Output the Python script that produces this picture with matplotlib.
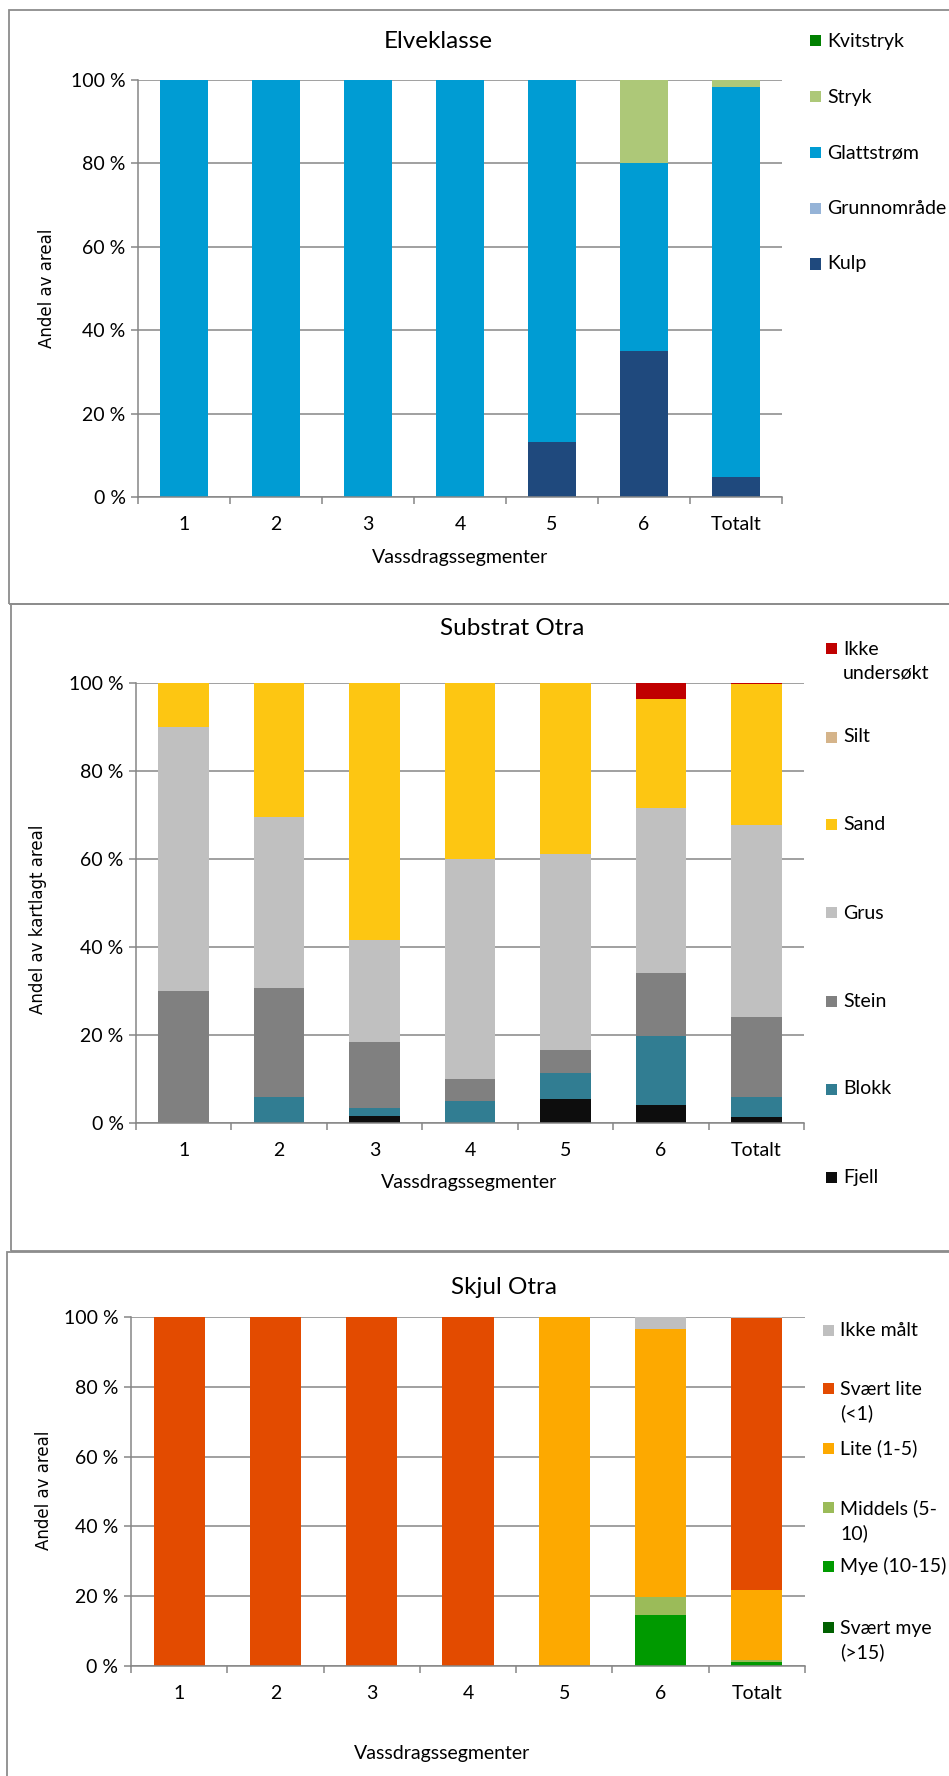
import numpy as np
import matplotlib
matplotlib.use("Agg")
import matplotlib.pyplot as plt
from matplotlib.patches import Rectangle

W, H = 949, 1776
FONT = "Lato"
YFONT = "DejaVu Sans"
GRID = "#868686"

segmenter = ["1", "2", "3", "4", "5", "6", "Totalt"]
yticks = [0, 20, 40, 60, 80, 100]
ytick_labels = ["0 %", "20 %", "40 %", "60 %", "80 %", "100 %"]

# Elveklasse (bottom to top of the stack)
elv_navn = ["Kulp", "Grunnområde", "Glattstrøm", "Stryk", "Kvitstryk"]
elv_farger = ["#1F497D", "#95B3D7", "#009CD3", "#ADC878", "#008000"]
kulp = [0, 0, 0, 0, 13.2, 35.0, 4.9]
grunnomrade = [0, 0, 0, 0, 0, 0, 0]
glattstrom = [100, 100, 100, 100, 86.8, 45.0, 93.4]
stryk = [0, 0, 0, 0, 0, 20.0, 1.7]
kvitstryk = [0, 0, 0, 0, 0, 0, 0]

# Substrat Otra
sub_navn = ["Fjell", "Blokk", "Stein", "Grus", "Sand", "Silt", "Ikke\nundersøkt"]
sub_farger = ["#0D0D0D", "#317D92", "#808080", "#C0C0C0", "#FDC612", "#D5B48A", "#C00000"]
fjell = [0, 0, 1.5, 0, 5.4, 4.0, 1.3]
blokk = [0, 6.0, 1.8, 5.0, 6.0, 15.7, 4.5]
stein = [30.0, 24.7, 15.0, 5.0, 5.2, 14.4, 18.3]
grus = [60.0, 38.9, 23.3, 50.0, 44.5, 37.4, 43.6]
sand = [10.0, 30.4, 58.4, 40.0, 38.9, 24.9, 32.0]
silt = [0, 0, 0, 0, 0, 0, 0]
ikke_unders = [0, 0, 0, 0, 0, 3.6, 0.3]

# Skjul Otra
skj_navn = ["Svært mye\n(>15)", "Mye (10-15)", "Middels (5-\n10)", "Lite (1-5)",
            "Svært lite\n(<1)", "Ikke målt"]
skj_farger = ["#006000", "#009A00", "#9BBB59", "#FDA900", "#E34B00", "#BFBFBF"]
svaert_mye = [0, 0, 0, 0, 0, 0, 0]
mye = [0, 0, 0, 0, 0, 14.6, 1.2]
middels = [0, 0, 0, 0, 0, 5.1, 0.4]
lite = [0, 0, 0, 0, 100, 77.0, 20.2]
svaert_lite = [100, 100, 100, 100, 0, 0, 77.9]
ikke_malt = [0, 0, 0, 0, 0, 3.3, 0.3]


def fx(px):
    return px / W


def fy(py):
    return 1 - py / H


fig = plt.figure(figsize=(W / 100, H / 100), dpi=100)
fig.patch.set_facecolor("white")


def ramme(x0, y0, y1):
    fig.patches.append(Rectangle((fx(x0), fy(y1)), fx(W + 20 - x0), (y1 - y0) / H,
                                 transform=fig.transFigure, fill=False,
                                 edgecolor="#8C8C8C", linewidth=1.3))


def panel(box, serier, farger, navn, tittel, ylabel, tpos, xlpos, ylpos, leg):
    left, top, right, bottom = box
    ax = fig.add_axes([fx(left), fy(bottom), fx(right - left), (bottom - top) / H])
    x = np.arange(len(segmenter))
    bunn = np.zeros(len(segmenter))
    for verdier, farge in zip(serier, farger):
        v = np.array(verdier, dtype=float)
        ax.bar(x, v, width=0.53, bottom=bunn, color=farge, linewidth=0, zorder=3)
        bunn += v
    ax.set_xlim(-0.5, len(segmenter) - 0.5)
    ax.set_ylim(0, 100)
    ax.set_yticks(yticks)
    ax.set_yticklabels(ytick_labels, fontfamily=FONT, fontsize=14)
    ax.set_xticks(x)
    ax.set_xticklabels(segmenter, fontfamily=FONT, fontsize=14)
    ax.set_xticks(np.arange(len(segmenter) + 1) - 0.5, minor=True)
    ax.tick_params(axis="x", which="major", length=0, pad=14)
    ax.tick_params(axis="x", which="minor", length=5, width=1.1, color=GRID)
    ax.tick_params(axis="y", length=5, width=1.1, color=GRID, pad=4)
    ax.yaxis.grid(True, color=GRID, linewidth=1.1, zorder=0)
    ax.set_axisbelow(True)
    for s in ["top", "right"]:
        ax.spines[s].set_visible(False)
    for s in ["left", "bottom"]:
        ax.spines[s].set_color(GRID)
        ax.spines[s].set_linewidth(1.1)
        ax.spines[s].set_zorder(4)

    fig.text(fx(tpos[0]), fy(tpos[1]), tittel, fontfamily=FONT, fontsize=17.5,
             ha="center", va="center")
    fig.text(fx(xlpos[0]), fy(xlpos[1]), "Vassdragssegmenter", fontfamily=FONT,
             fontsize=14, ha="center", va="center")
    fig.text(fx(ylpos[0]), fy(ylpos[1]), ylabel, fontfamily=YFONT, fontsize=12,
             rotation=90, ha="center", va="center")

    # legend, top entry is the last series
    xsq, xtxt, ypos = leg
    linje = 27
    for farge, tekst, yc in zip(farger[::-1], navn[::-1], ypos):
        n = tekst.count("\n") + 1
        fig.patches.append(Rectangle((fx(xsq - 5.5), fy(yc + 5.5)), 11 / W, 11 / H,
                                     transform=fig.transFigure, facecolor=farge,
                                     edgecolor="none"))
        fig.text(fx(xtxt), fy(yc + (n - 1) * linje / 2), tekst, fontfamily=FONT,
                 fontsize=14, ha="left", va="center", linespacing=1.45)
    return ax


ramme(9, 10, 604)
ramme(11, 604, 1251)
ramme(7, 1252, H + 20)

panel((138, 80, 782, 497),
      [kulp, grunnomrade, glattstrom, stryk, kvitstryk], elv_farger, elv_navn,
      "Elveklasse", "Andel av areal", (438, 42), (460, 557), (47, 288),
      (815, 827, [41, 97, 153, 209, 264]))

panel((136, 683, 804, 1123),
      [fjell, blokk, stein, grus, sand, silt, ikke_unders], sub_farger, sub_navn,
      "Substrat Otra", "Andel av kartlagt areal", (512, 628), (469, 1182), (38, 919),
      (831, 843, [648, 737, 825, 913, 1001, 1089, 1177]))

panel((131, 1317, 805, 1666),
      [svaert_mye, mye, middels, lite, svaert_lite, ikke_malt], skj_farger, skj_navn,
      "Skjul Otra", "Andel av areal", (504, 1287), (442, 1753), (44, 1490),
      (828, 840, [1330, 1388, 1448, 1507, 1566, 1627]))

fig.savefig("out.png", dpi=100, facecolor="white")
